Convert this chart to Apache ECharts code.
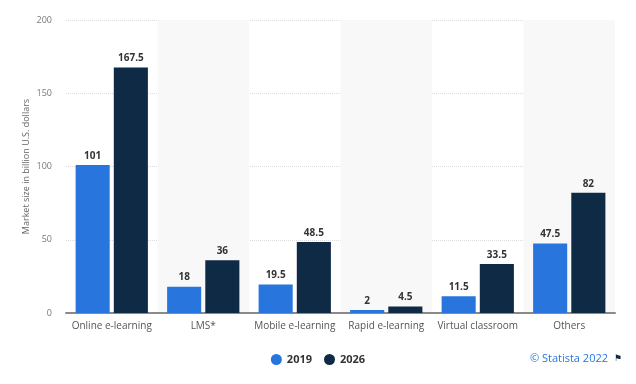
<!DOCTYPE html>
<html><head><meta charset="utf-8">
<script src="https://cdn.jsdelivr.net/npm/echarts@6/dist/echarts.min.js"></script>
<style>html,body{margin:0;padding:0;background:#fff}#c{width:636px;height:384px}</style>
</head><body><div id="c"></div>
<script>
const categories = ['Online e-learning','LMS*','Mobile e-learning','Rapid e-learning','Virtual classroom','Others'];
const values2019 = [101, 18, 19.5, 2, 11.5, 47.5];
const values2026 = [167.5, 36, 48.5, 4.5, 33.5, 82];
const seriesNames = ['2019','2026'];
const yTicks = {min:0, max:200, interval:50};

const chart = echarts.init(document.getElementById('c'), null, {renderer:'canvas'});
const labelStyle = {show:true, position:'top', color:'#333', fontSize:10, fontWeight:'bold', fontFamily:'Open Sans', distance:4};
chart.setOption({
  animation:false,
  grid:{left:66, right:21, top:20, bottom:71},
  legend:{bottom:14, left:'center', itemWidth:11, itemHeight:11, icon:'circle', itemGap:12,
    textStyle:{fontSize:11, fontWeight:'bold', color:'#333', fontFamily:'Open Sans'}},
  xAxis:{type:'category', data:categories,
    axisLine:{lineStyle:{color:'#8a8a8a', width:2}}, axisTick:{show:false},
    axisLabel:{color:'#555', fontSize:10, fontFamily:'Open Sans', margin:8, interval:0},
    splitArea:{show:true, areaStyle:{color:['rgba(255,255,255,0)','#f8f8f8']}}},
  yAxis:{type:'value', min:yTicks.min, max:yTicks.max, interval:yTicks.interval,
    name:'Market size in billion U.S. dollars', nameLocation:'middle', nameGap:35, nameRotate:90,
    nameMoveOverlap:false,
    nameTextStyle:{color:'#666', fontSize:9, fontFamily:'Open Sans'},
    axisLine:{show:false}, axisTick:{show:false},
    axisLabel:{color:'#777', fontSize:9, fontFamily:'Open Sans', margin:14},
    splitLine:{lineStyle:{color:'#dcdcdc', type:'dotted'}}},
  series:[
    {name:seriesNames[0], type:'bar', data:values2019, itemStyle:{color:'#2876dd'}, barGap:'12%', barCategoryGap:'21%', label:labelStyle},
    {name:seriesNames[1], type:'bar', data:values2026, itemStyle:{color:'#0f2a45'}, label:labelStyle}
  ],
  graphic:[{type:'text', right:28, bottom:20, style:{text:'© Statista 2022', fill:'#2876dd', fontSize:11, fontFamily:'Open Sans'}},
           {type:'text', right:14, bottom:21, style:{text:'⚑', fill:'#0f2a45', fontSize:9}}]
});
</script></body></html>
